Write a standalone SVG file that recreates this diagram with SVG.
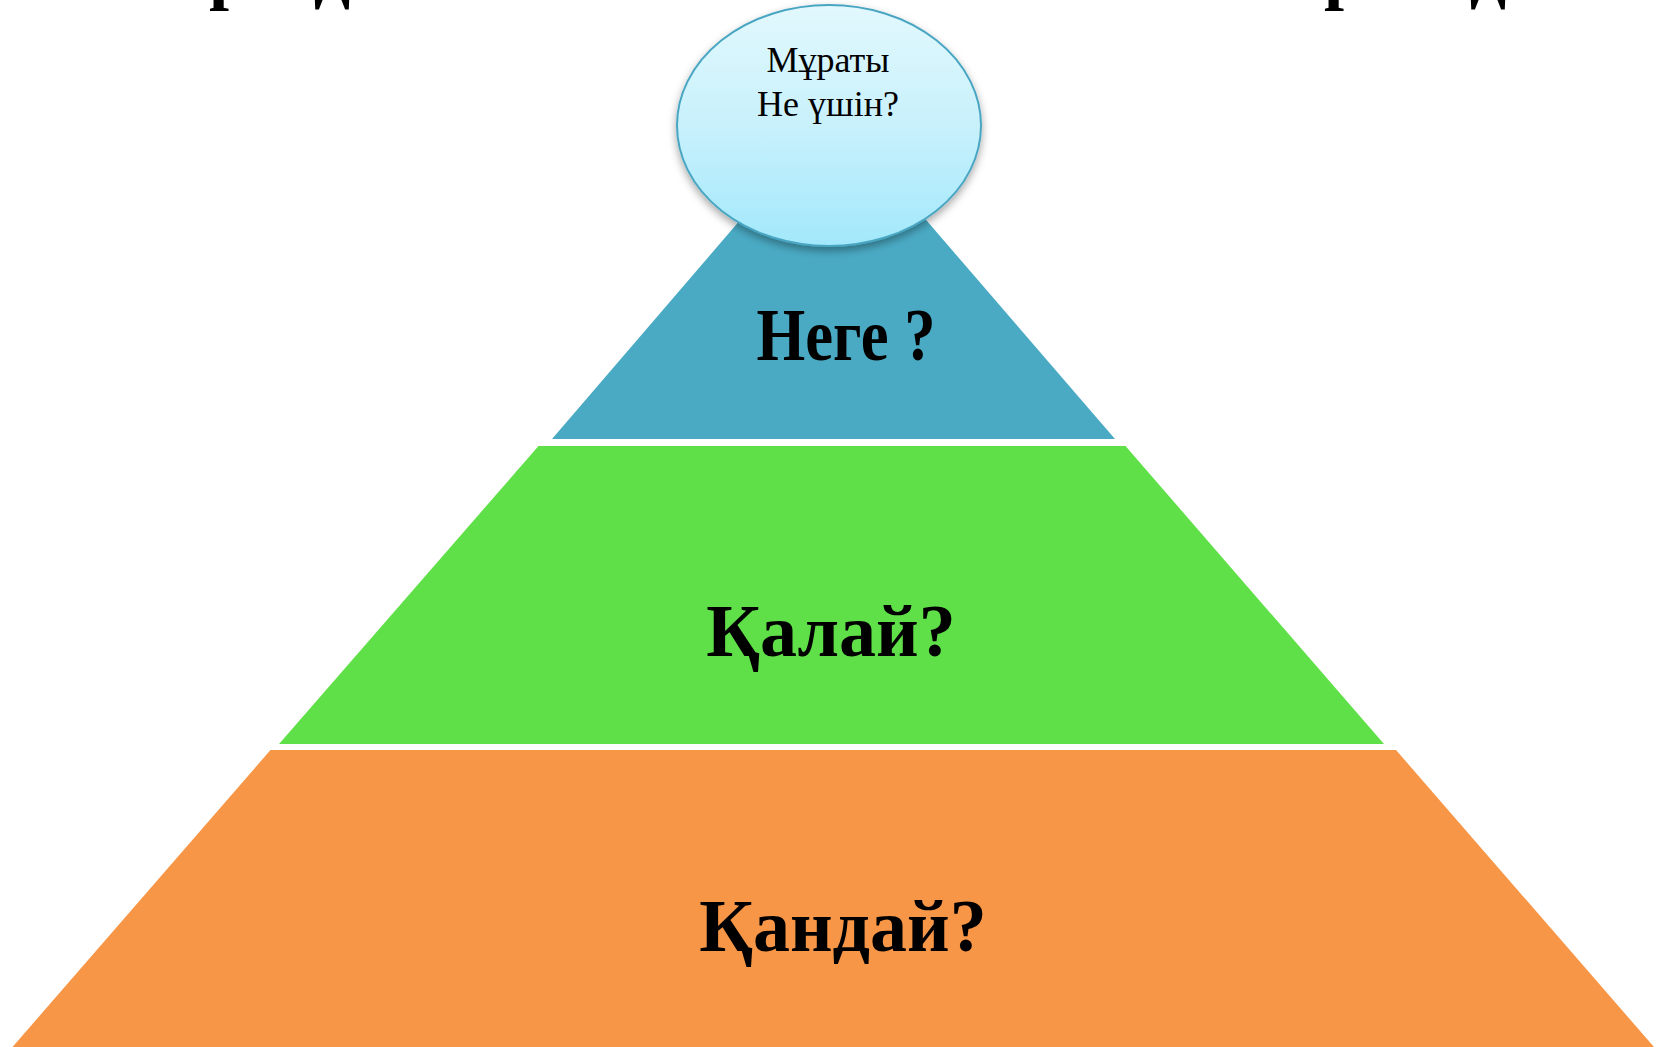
<svg xmlns="http://www.w3.org/2000/svg" width="1657" height="1047" viewBox="0 0 1657 1047">
  <style>
    .big { font-family: "Liberation Serif", "Times New Roman", serif; font-weight: bold; font-size: 74px; fill: #000; text-anchor: middle; }
    .small { font-family: "Liberation Serif", "Times New Roman", serif; font-size: 36px; fill: #000; text-anchor: middle; }
    .title { font-family: "Liberation Serif", "Times New Roman", serif; font-weight: bold; font-size: 72px; fill: #000; text-anchor: middle; }
  </style>
  <defs>
    <linearGradient id="ellGrad" x1="0" y1="0" x2="0" y2="1">
      <stop offset="0" stop-color="#e2f8fd"/>
      <stop offset="0.5" stop-color="#c8f1fc"/>
      <stop offset="1" stop-color="#a2e8fb"/>
    </linearGradient>
    <filter id="shadow" x="-20%" y="-20%" width="140%" height="150%">
      <feDropShadow dx="0" dy="4" stdDeviation="4" flood-color="#000" flood-opacity="0.35"/>
    </filter>
  </defs>
  <rect width="1657" height="1047" fill="#ffffff"/>

  <g id="title-fragment">
    <text class="title" x="229" y="-4">р</text>
    <text class="title" x="332" y="-3" font-size="80">д</text>
    <text class="title" x="1344" y="-4">р</text>
    <text class="title" x="1488" y="-3" font-size="80">д</text>
  </g>

  <g id="tier-bottom">
    <polygon points="270.5,750 1396,750 1654,1047 12.5,1047" fill="#f79646"/>
    <text class="big" x="843" y="951">Қандай?</text>
  </g>

  <g id="tier-middle">
    <polygon points="538.5,446 1125.5,446 1384,744 279,744" fill="#60e048"/>
    <text class="big" x="831" y="656">Қалай?</text>
  </g>

  <g id="tier-top">
    <polygon points="833,112 1115,439 552,439" fill="#4aaac4"/>
    <text class="big" x="846" y="360" textLength="179" lengthAdjust="spacingAndGlyphs">Неге ?</text>
  </g>

  <g id="apex">
    <ellipse cx="829" cy="125.5" rx="152" ry="120.5" fill="url(#ellGrad)" stroke="#4aa6c2" stroke-width="2" filter="url(#shadow)"/>
    <text class="small" x="828" y="72">Мұраты</text>
    <text class="small" x="828" y="116">Не үшін?</text>
  </g>

  <g id="connectors"/>
</svg>
